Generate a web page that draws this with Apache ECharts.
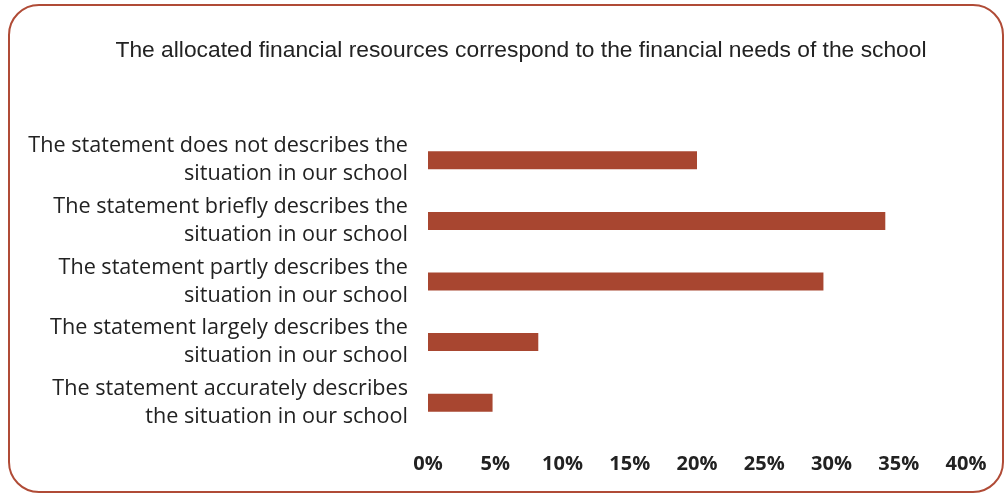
<!DOCTYPE html>
<html>
<head>
<meta charset="utf-8">
<script src="https://cdn.jsdelivr.net/npm/echarts@6/dist/echarts.min.js"></script>
<style>
  html, body { margin: 0; padding: 0; background: #ffffff; }
  #chart { width: 1006px; height: 495px; }
</style>
</head>
<body>
<div id="chart"></div>
<script>
// Survey answers, listed top to bottom as drawn
const categories = [
  'The statement does not describes the\nsituation in our school',
  'The statement briefly describes the\nsituation in our school',
  'The statement partly describes the\nsituation in our school',
  'The statement largely describes the\nsituation in our school',
  'The statement accurately describes\nthe situation in our school'
];
// Share of respondents, in percent
const shares = [20.0, 34.0, 29.4, 8.2, 4.8];
const titleText = 'The allocated financial resources correspond to the financial needs of the school';

const chart = echarts.init(document.getElementById('chart'), null, { renderer: 'canvas' });

chart.setOption({
  animation: false,
  backgroundColor: '#ffffff',
  title: {
    text: titleText,
    left: 516,
    textAlign: 'center',
    top: 34,
    textStyle: {
      fontFamily: 'Liberation Sans, Arial, sans-serif',
      fontSize: 22.8,
      fontWeight: 'normal',
      color: '#222222'
    }
  },
  graphic: [{
    type: 'rect',
    shape: { x: 9, y: 5, width: 994, height: 487, r: 30 },
    style: { fill: 'none', stroke: '#B04B36', lineWidth: 2 },
    silent: true,
    z: -1
  }],
  grid: { left: 428, right: 40, top: 130, bottom: 62, containLabel: false },
  xAxis: {
    type: 'value',
    min: 0,
    max: 40,
    interval: 5,
    axisLine: { show: false },
    axisTick: { show: false },
    splitLine: { show: false },
    axisLabel: {
      formatter: '{value}%',
      margin: 21,
      fontFamily: 'Open Sans, Liberation Sans, sans-serif',
      fontWeight: 'bold',
      fontSize: 20,
      color: '#222222'
    }
  },
  yAxis: {
    type: 'category',
    inverse: true,
    data: categories,
    axisLine: { show: false },
    axisTick: { show: false },
    splitLine: { show: false },
    axisLabel: {
      interval: 0,
      margin: 20,
      align: 'right',
      lineHeight: 28,
      fontFamily: 'Open Sans, Liberation Sans, sans-serif',
      fontSize: 21.6,
      color: '#222222'
    }
  },
  series: [{
    type: 'bar',
    data: shares,
    barWidth: 18,
    itemStyle: { color: '#A84630' }
  }]
});
</script>
</body>
</html>
